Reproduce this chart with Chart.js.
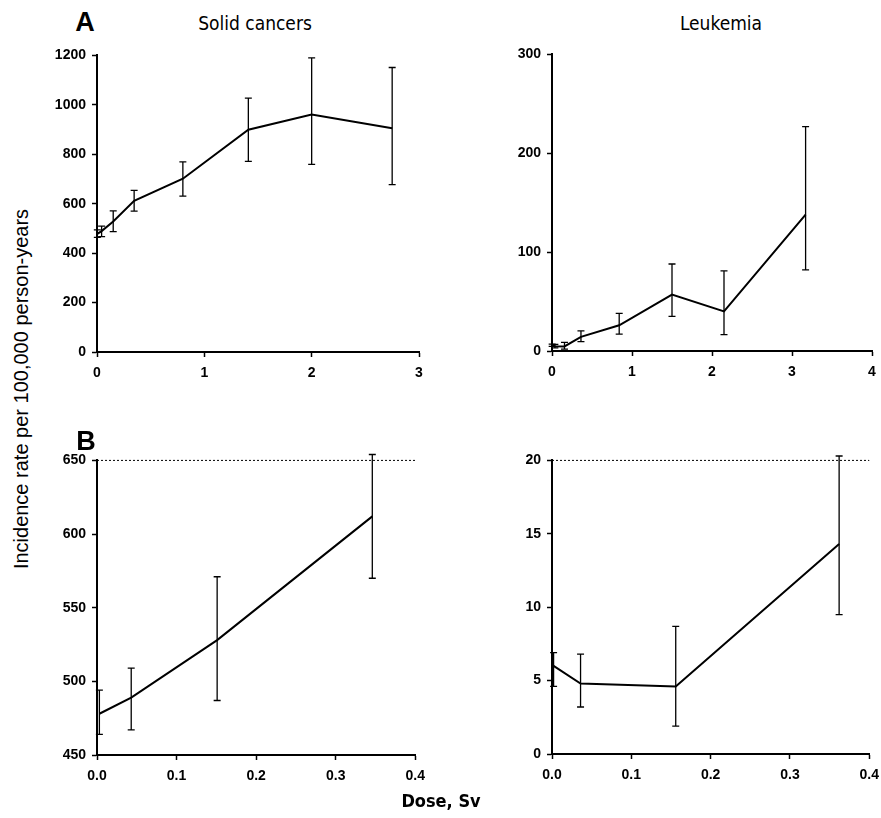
<!DOCTYPE html>
<html><head><meta charset="utf-8">
<script src="https://cdn.jsdelivr.net/npm/chart.js@4"></script>
<style>
html,body{margin:0;padding:0;background:#fff;}
body{width:881px;height:818px;position:relative;overflow:hidden;}
canvas{position:absolute;}
.lbl{position:absolute;color:#000;white-space:nowrap;transform:translate(-50%,-50%);line-height:1;}
.narrow{font-family:"Liberation Sans Narrow","DejaVu Sans Condensed","Arial Narrow",sans-serif;}
</style></head><body>
<canvas id="c1"></canvas><canvas id="c2"></canvas><canvas id="c3"></canvas><canvas id="c4"></canvas>
<div class="lbl" style="left:85px;top:22px;font:bold 27px 'Liberation Sans',Arial,sans-serif;">A</div>
<div class="lbl" style="left:86px;top:441px;font:bold 27px 'Liberation Sans',Arial,sans-serif;">B</div>
<div class="lbl narrow" style="left:255px;top:23px;font-size:19px;">Solid cancers</div>
<div class="lbl narrow" style="left:721px;top:23px;font-size:19px;">Leukemia</div>
<div class="lbl" style="left:21px;top:389px;font:20px 'Liberation Sans',Arial,sans-serif;transform:translate(-50%,-50%) rotate(-90deg);">Incidence rate per 100,000 person-years</div>
<div class="lbl narrow" style="left:441px;top:801px;font-size:18px;font-weight:bold;">Dose, Sv</div>
<script>
// ---- data ----
const doseSolid = [0.003, 0.043, 0.151, 0.346, 0.80, 1.41, 2.00, 2.75];
const rateSolid = [478, 489, 528, 612, 701, 899, 961, 905];
const lowSolid  = [464, 467, 487, 570, 631, 771, 759, 677];
const highSolid = [494, 509, 571, 654, 769, 1027, 1190, 1151];

const doseLeuk = [0.002, 0.036, 0.156, 0.362, 0.84, 1.50, 2.15, 3.17];
const rateLeuk = [6.0, 4.8, 4.6, 14.3, 26, 57, 40, 138];
const lowLeuk  = [4.6, 3.2, 1.9, 9.5, 17, 35, 16.5, 82];
const highLeuk = [6.9, 6.8, 8.7, 20.3, 38, 88, 81, 227];

const lowDoseCount = 4; // points shown in panel B

const yTicksSolidA = [0, 200, 400, 600, 800, 1000, 1200];
const yTicksLeukA  = [0, 100, 200, 300];
const yTicksSolidB = [450, 500, 550, 600, 650];
const yTicksLeukB  = [0, 5, 10, 15, 20];
const xTicksSolidA = [0, 1, 2, 3];
const xTicksLeukA  = [0, 1, 2, 3, 4];
const xTicksB      = [0, 0.1, 0.2, 0.3, 0.4];

const FONT = {family: '"Liberation Sans", Arial, sans-serif', size: 14, weight: 'bold'};

const errorBars = {
  id: 'errorBars',
  afterDatasetsDraw(chart) {
    const ctx = chart.ctx, xs = chart.scales.x, ys = chart.scales.y;
    chart.data.datasets.forEach(ds => {
      if (!ds.errLow) return;
      ctx.save();
      ctx.strokeStyle = '#000'; ctx.lineWidth = 1.3;
      ds.data.forEach((p, i) => {
        const x = xs.getPixelForValue(p.x);
        const y1 = ys.getPixelForValue(ds.errLow[i]);
        const y2 = ys.getPixelForValue(ds.errHigh[i]);
        ctx.beginPath();
        ctx.moveTo(x, y1); ctx.lineTo(x, y2);
        ctx.moveTo(x - 3.5, y1); ctx.lineTo(x + 3.5, y1);
        ctx.moveTo(x - 3.5, y2); ctx.lineTo(x + 3.5, y2);
        ctx.stroke();
      });
      ctx.restore();
    });
  }
};

function panel(id, area, xs, ys, lo, hi, xr, xt, xdec, yr, yt, dotted) {
  const YW = 62, XH = 36, PT = 14, PR = 14;
  const cv = document.getElementById(id);
  const w = area.r - area.l + YW + PR, h = area.b - area.t + PT + XH;
  cv.style.left = (area.l - YW) + 'px'; cv.style.top = (area.t - PT) + 'px';
  cv.width = w; cv.height = h; cv.style.width = w + 'px'; cv.style.height = h + 'px';
  const datasets = [{
    data: xs.map((x, i) => ({x: x, y: ys[i]})),
    errLow: lo, errHigh: hi,
    borderColor: '#000', borderWidth: 2, pointRadius: 0, tension: 0, fill: false
  }];
  if (dotted) {
    datasets.push({
      data: [{x: xr[0], y: yr[1]}, {x: xr[1], y: yr[1]}],
      borderColor: '#000', borderWidth: 1, borderDash: [2, 2], pointRadius: 0, clip: false
    });
  }
  const grid = {display: true, drawOnChartArea: false, drawTicks: true, tickLength: 5, tickWidth: 1.5, color: '#000'};
  const border = {display: true, color: '#000', width: 2};
  new Chart(cv, {
    type: 'line',
    data: {datasets},
    plugins: [errorBars],
    options: {
      responsive: false, animation: false, devicePixelRatio: 1,
      layout: {padding: {top: PT, right: PR, left: 0, bottom: 0}},
      plugins: {legend: {display: false}, tooltip: {enabled: false}},
      scales: {
        x: {
          type: 'linear', min: xr[0], max: xr[1],
          afterBuildTicks: s => { s.ticks = xt.map(v => ({value: v})); },
          afterFit: s => { s.height = XH; },
          ticks: {font: FONT, color: '#000', padding: 8, maxRotation: 0,
                  callback: v => v.toFixed(xdec)},
          grid, border
        },
        y: {
          type: 'linear', min: yr[0], max: yr[1],
          afterBuildTicks: s => { s.ticks = yt.map(v => ({value: v})); },
          afterFit: s => { s.width = YW; },
          ticks: {font: FONT, color: '#000', padding: 6, callback: v => String(v)},
          grid, border
        }
      }
    }
  });
}

panel('c1', {l: 97, r: 419, t: 55, b: 352}, doseSolid, rateSolid, lowSolid, highSolid,
      [0, 3], xTicksSolidA, 0, [0, 1200], yTicksSolidA, false);
panel('c2', {l: 552, r: 872, t: 54, b: 351}, doseLeuk, rateLeuk, lowLeuk, highLeuk,
      [0, 4], xTicksLeukA, 0, [0, 300], yTicksLeukA, false);
panel('c3', {l: 97, r: 419, t: 460, b: 755},
      doseSolid.slice(0, lowDoseCount), rateSolid.slice(0, lowDoseCount),
      lowSolid.slice(0, lowDoseCount), highSolid.slice(0, lowDoseCount),
      [0, 0.4], xTicksB, 1, [450, 650], yTicksSolidB, true);
panel('c4', {l: 552, r: 873, t: 460, b: 754},
      doseLeuk.slice(0, lowDoseCount), rateLeuk.slice(0, lowDoseCount),
      lowLeuk.slice(0, lowDoseCount), highLeuk.slice(0, lowDoseCount),
      [0, 0.4], xTicksB, 1, [0, 20], yTicksLeukB, true);
</script>
</body></html>
